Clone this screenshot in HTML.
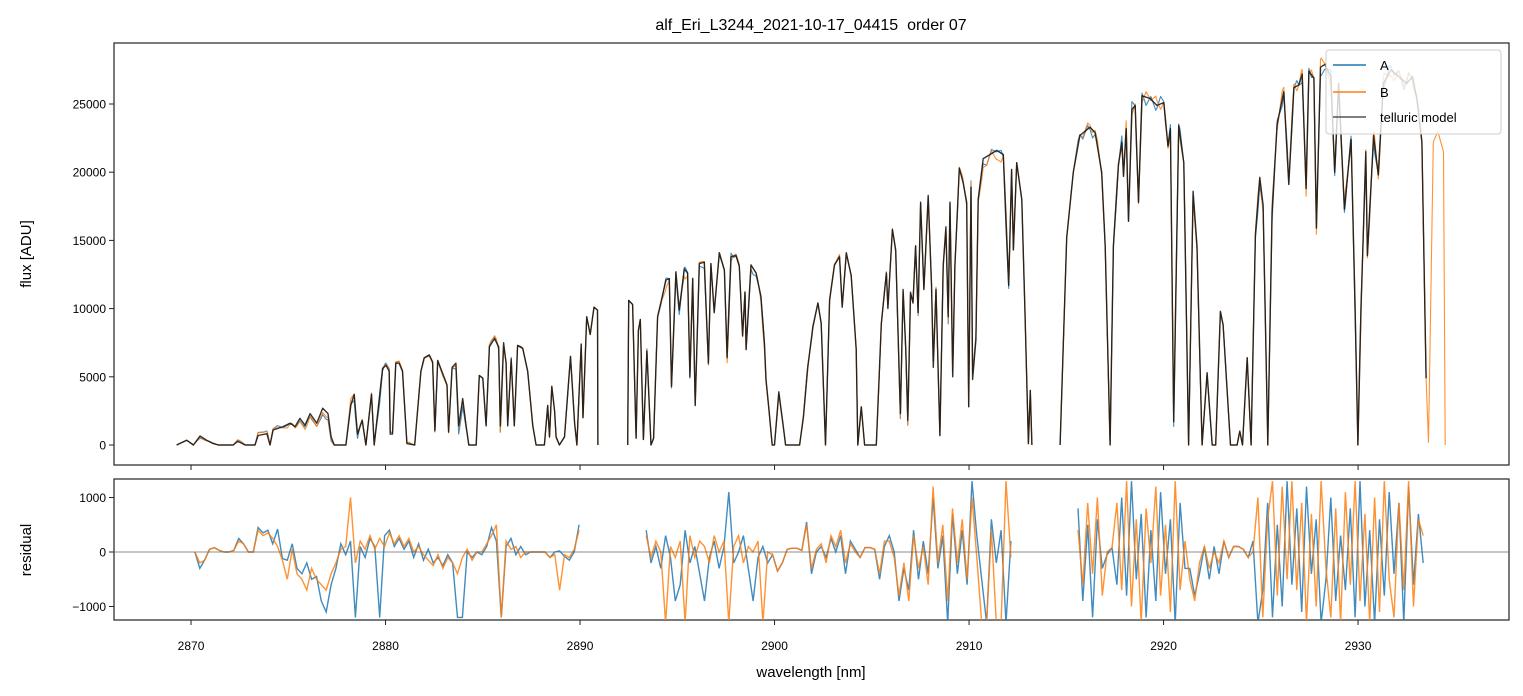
<!DOCTYPE html>
<html><head><meta charset="utf-8">
<style>
html,body{margin:0;padding:0;background:#fff;}
svg{display:block;font-family:"Liberation Sans","DejaVu Sans",sans-serif;}
</style></head>
<body>
<svg id="chart" width="1523" height="696" viewBox="0 0 1523 696" xmlns="http://www.w3.org/2000/svg">
<defs>
<clipPath id="clipTop"><rect x="114" y="43" width="1395" height="422"/></clipPath>
<clipPath id="clipBot"><rect x="114" y="479" width="1395" height="141"/></clipPath>
</defs>
<rect width="1523" height="696" fill="#fff"/>
<text x="811" y="30" text-anchor="middle" font-size="16" fill="#000" style="white-space:pre">alf_Eri_L3244_2021-10-17_04415  order 07</text>
<g id="topPlot"></g>
<g id="botPlot"></g>
<text transform="translate(31,254) rotate(-90)" text-anchor="middle" font-size="15">flux [ADU]</text>
<text transform="translate(31,550) rotate(-90)" text-anchor="middle" font-size="15">residual</text>
<text x="811" y="677" text-anchor="middle" font-size="15">wavelength [nm]</text>
<g>
<rect x="1326" y="50" width="175" height="84" rx="3" fill="#fff" fill-opacity="0.8" stroke="#ccc"/>
<line x1="1333" y1="65" x2="1366" y2="65" stroke="#1f77b4" stroke-width="1.5"/>
<text x="1380" y="70" font-size="13">A</text>
<line x1="1333" y1="92" x2="1366" y2="92" stroke="#ff7f0e" stroke-width="1.5"/>
<text x="1380" y="97" font-size="13">B</text>
<line x1="1333" y1="117" x2="1366" y2="117" stroke="#555" stroke-width="1.5"/>
<text x="1380" y="122" font-size="13">telluric model</text>
</g>
</svg>
<script>
const xTicks = [2870, 2880, 2890, 2900, 2910, 2920, 2930];
const yTicksTop = [0, 5000, 10000, 15000, 20000, 25000];
const yTicksBot = [-1000, 0, 1000];
const modelWl = [
[2869.26,2869.78,2870.12,2870.46,2870.8,2871.14,2871.4,2872.17,2872.4,2872.78,2873.29,2873.45,2873.9,2874.06,2874.22,2874.73,2875.09,2875.35,2875.6,2875.86,2876.12,2876.46,2876.77,2877.04,2877.2,2877.36,2877.96,2878.22,2878.39,2878.56,2878.8,2878.99,2879.28,2879.42,2879.85,2880.02,2880.19,2880.24,2880.36,2880.53,2880.7,2880.87,2881.1,2881.5,2881.82,2881.99,2882.25,2882.42,2882.54,2882.68,2883.03,2883.16,2883.24,2883.42,2883.62,2883.76,2883.97,2884.14,2884.28,2884.66,2884.82,2885.0,2885.17,2885.34,2885.6,2885.82,2885.9,2886.07,2886.2,2886.28,2886.46,2886.62,2886.79,2887.05,2887.31,2887.57,2887.74,2888.17,2888.34,2888.43,2888.55,2888.69,2888.77,2888.94,2889.2,2889.51,2889.72,2889.84,2890.06,2890.15,2890.34,2890.52,2890.72,2890.9,2890.92],
[2892.45,2892.5,2892.7,2892.88,2893.0,2893.1,2893.26,2893.44,2893.65,2893.78,2893.99,2894.42,2894.59,2894.7,2894.93,2895.1,2895.36,2895.53,2895.65,2895.79,2895.92,2896.13,2896.39,2896.6,2896.73,2896.9,2897.16,2897.42,2897.56,2897.76,2898.02,2898.19,2898.36,2898.48,2898.54,2898.79,2899.05,2899.3,2899.48,2899.56,2899.7,2899.88,2900.0,2900.22,2900.43,2900.57,2901.29,2901.49,2901.71,2901.97,2902.23,2902.4,2902.62,2902.83,2903.08,2903.34,2903.48,2903.69,2903.94,2904.2,2904.28,2904.46,2904.63,2905.23,2905.49,2905.75,2905.83,2906.06,2906.23,2906.47,2906.61,2906.75,2906.85,2906.99,2907.12,2907.25,2907.38,2907.51,2907.68,2907.9,2908.07,2908.16,2908.3,2908.5,2908.67,2908.81,2908.93,2909.02,2909.16,2909.27,2909.5,2909.7,2909.88,2909.98,2910.1,2910.18,2910.35,2910.47,2910.73,2911.08,2911.42,2911.76,2912.04,2912.19,2912.28,2912.45,2912.71,2912.88,2913.05,2913.15,2913.23],
[2914.68,2915.02,2915.36,2915.7,2916.22,2916.48,2916.82,2917.0,2917.25,2917.42,2917.68,2917.86,2917.94,2918.08,2918.2,2918.37,2918.54,2918.71,2918.89,2919.31,2919.66,2920.01,2920.23,2920.35,2920.52,2920.78,2921.04,2921.29,2921.52,2921.72,2921.98,2922.24,2922.5,2922.68,2922.92,2923.06,2923.44,2923.78,2923.92,2924.06,2924.3,2924.5,2924.72,2924.95,2925.12,2925.36,2925.58,2925.84,2926.18,2926.44,2926.7,2926.96,2927.13,2927.33,2927.47,2927.73,2927.86,2928.07,2928.3,2928.6,2928.8,2929.0,2929.3,2929.64,2929.85,2929.99,2930.15,2930.4,2930.48,2930.8,2931.04,2931.3,2931.7,2932.1,2932.5,2932.8,2933.02,2933.28,2933.5]
];
const modelFluxK = [
[0,0.35,0,0.66,0.35,0.1,0,0,0.27,0,0,0.7,0.83,0,1.1,1.35,1.6,1.35,1.95,1.45,2.3,1.6,2.7,2.3,0.6,0,0,2.95,3.7,0.8,1.8,0,3.7,0,5.6,5.85,5.4,0.8,0.8,6.0,6.0,5.4,0.1,0,5.4,6.4,6.6,6.1,1.05,6.2,4.9,4.4,0.95,5.7,6.0,1.4,3.4,1.4,0,0,5.1,4.9,1.4,7.2,7.8,7.2,1.4,7.5,6.0,1.4,6.3,1.4,7.3,7.1,5.4,1.4,0,0,2.9,0.6,4.3,2.5,0.6,0,0.6,6.5,1.6,0,7.4,2.0,9.4,8.1,10.1,9.9,0],
[0,10.6,10.3,0.5,8.4,9.2,0.4,6.9,0,0.5,9.4,12.1,12.2,4.3,12.7,9.9,12.9,12.6,5.0,12.2,2.9,13.3,13.4,6.0,13.3,9.7,14.1,12.8,6.4,13.8,13.9,13.1,8.0,11.2,7.0,13.2,12.6,10.9,7.5,4.8,2.8,0,0,3.9,1.6,0,0,2.1,5.7,8.7,10.4,8.9,0,10.6,13.2,13.8,10.1,14.1,12.4,7.0,0,2.8,0,0,8.9,12.6,10,15.8,14.3,2.3,11.4,7.0,1.8,11.2,10.4,14.6,9.7,17.8,11.4,18.3,11.7,5.7,11.4,0.7,13.1,16.0,9.4,17.8,5.0,13.1,20.3,19.2,17.8,2.8,18.9,4.8,7.7,18.0,21.0,21.3,21.6,21.3,11.7,20.2,14.3,20.7,18.0,9.4,0.1,4,0],
[0,15.2,20.0,22.7,23.3,22.9,20.0,14.6,0,14.6,20.5,22.2,19.7,23.2,16.4,24.6,24.9,17.8,25.6,25.4,24.9,25.1,21.9,23.2,1.7,23.4,20.7,0,18.6,14.6,0,5.3,0,0,9.8,8.8,0,0,1.0,0,6.4,0,15.4,19.6,17.6,0,17.1,23.5,25.9,19.1,26.2,26.4,27.2,18.8,27.4,26.9,15.9,27.7,27.9,27,20,26.5,17.3,22.4,10,0,10,21.5,13.9,22.7,19.8,26.5,27.5,27,26.5,27,25.4,22.2,4.9]
];
const bTailWl = [2933.5, 2933.62, 2933.87, 2934.1, 2934.39, 2934.48];
const bTailFluxK = [4.9, 0.2, 22.2, 23, 21.5, 0];
const resStart = [2870.2, 2893.4, 2915.6];
const resStep = 0.25;
const resA = [
[0,-3,-1.5,0.5,0.8,0.3,0,0,0.3,2.5,1.5,0,0,4.5,3.5,4,1.5,4.2,-1.2,-1.5,1.5,-3,-4,-2,-5,-4.5,-9,-11,-6,-3,1.5,-0.5,2,-12,1,-1,2.5,1,-12,3,4,1,2.5,0.5,2,-1,1.5,-1.5,0.5,-2,-1,-2.5,-0.5,-2,-12,-12,0,-1,0,-0.5,1,4.5,2,-12,1,2.5,-0.5,1,-0.5,0,0,0,0,-1,0,0.2,-0.8,-1.5,0,5],
[4,-2,1,-3,3,-1,-9,-6,4,-2,1,-4,-9,-1,2,-3,1,11,-2,0,3,-3,-9,-1,1,-2,-0.5,-3.5,-2,0.5,0.7,0.7,0.3,5.5,-4,0,1,-1,2.5,0,3,-4,2,0.5,-1,0.8,0.8,0.5,-5,1,3,0,-9,-3,-7,4,-5,2,-4,10,-3,3,-13,7,-4,4,-6,13,3,-5,-13,6,-2,4,-13,2],
[8,-9,5,-12,6,-3,-0.5,0.8,-6,10,-8,13,-5,7,-12,4,-9,11,-4,6,-13,9,-3,-3,-8,-4,1,-5,1,-4,2,-1,1,1,0.5,-1,2,-13,-7,9,-12,5,-10,13,-6,8,-11,12,-4,6,-13,-5,10,-9,3,-7,8,-12,13,-10,4,-13,6,-8,11,-4,9,-13,12,-6,7,-2]
];
const resB = [
[0,-2,-1.5,0.5,0.8,0.3,0,0,0.3,2,1.5,0,0,4,3,3.5,2.5,1,-1.5,-5,0.5,-4,-5,-7,-3,-5,-6,-7,-4,-2,0.5,1,10,-2,2,0.5,3,0.5,2.5,1,3.5,1.5,3,1,2.5,0,1,-0.5,-1.5,-2.5,-0.5,-3,-1,-2,-4,-1,0.5,-1.5,0,0,1.5,3,5,-12,2,0.5,1,-1,0,0,0,0,0,-1,-0.5,-7,-0.5,-1,0.5,4],
[3,-1,2,0,-13,1,-1,2,-13,3,-1,2,1,-2,3,0,2,-13,1,3,-2,1,0,2,-13,0,-0.5,-3.5,-2,0.5,0.7,0.7,0.3,5,-3,0.5,1.5,-2,3,1,4,-2,1.5,0,-1,0.8,0.8,0.5,-4,2,2,-1,-8,-2,-9,3,-3,1,-6,12,-2,5,-9,8,-2,6,-5,10,-1,-13,-13,4,-13,-13,13,-1],
[4,-6,9,-4,10,-8,0,0.8,9,-7,13,-10,6,-13,8,-2,12,-8,5,-11,13,-7,2,-5,-9,-2,1,-3,0,-2,2,-1,1,1,0.5,-1,0,10,-12,6,13,-8,12,-5,13,-7,9,-13,7,-10,13,-3,-12,8,-13,11,-6,13,-9,7,-13,10,-11,13,-5,-12,9,-7,13,-10,6,3]
];

const NS = "http://www.w3.org/2000/svg";
const X0 = 114, X1 = 1509, WL0 = 2866.04, WL1 = 2937.76;
const xs = w => X0 + (w - WL0) / (WL1 - WL0) * (X1 - X0);
const yTop = f => 445 - f * 0.013640;
const yBot = r => 552 - r * 0.0545;
const topG = document.getElementById('topPlot');
const botG = document.getElementById('botPlot');
function mk(tag, attrs, parent) {
  const el = document.createElementNS(NS, tag);
  for (const k in attrs) el.setAttribute(k, attrs[k]);
  parent.appendChild(el);
  return el;
}
function resAt(series, w) {
  for (let s = 0; s < resStart.length; s++) {
    const arr = series[s];
    const t = (w - resStart[s]) / resStep;
    if (t >= 0 && t <= arr.length - 1) {
      const i = Math.floor(t), fr = t - i;
      const v1 = arr[i], v2 = arr[Math.min(i + 1, arr.length - 1)];
      return (v1 + (v2 - v1) * fr) * 100;
    }
  }
  return 0;
}
function modelAt(s, w) {
  const W = modelWl[s], F = modelFluxK[s];
  for (let i = 0; i < W.length - 1; i++) {
    if (w >= W[i] && w <= W[i + 1]) {
      return (F[i] + (F[i + 1] - F[i]) * (w - W[i]) / (W[i + 1] - W[i])) * 1000;
    }
  }
  return 0;
}
function spectrumPath(series) {
  let d = '';
  for (let s = 0; s < modelWl.length; s++) {
    const W = modelWl[s];
    const pts = W.slice();
    for (let r = 0; r < resStart.length; r++) {
      for (let i = 0; i < series[r].length; i++) {
        const w = resStart[r] + i * resStep;
        if (w > W[0] && w < W[W.length - 1]) pts.push(w);
      }
    }
    pts.sort((a, b) => a - b);
    pts.forEach((w, i) => {
      const m = modelAt(s, w);
      const v = m > 0 ? Math.max(0, m + resAt(series, w) * 0.5) : 0;
      d += (i === 0 ? 'M' : 'L') + xs(w).toFixed(1) + ',' + yTop(v).toFixed(1);
    });
  }
  return d;
}

mk('rect', {x: X0, y: 43, width: X1 - X0, height: 422, fill: 'none', stroke: '#222', 'stroke-width': 1.2,  }, topG);
mk('rect', {x: X0, y: 479, width: X1 - X0, height: 141, fill: 'none', stroke: '#222', 'stroke-width': 1.2,  }, botG);
xTicks.forEach(t => {
  const x = xs(t);
  const a = mk('line', {x1: x, y1: 465, x2: x, y2: 470, stroke: '#222'}, topG);
  
  
  const b = mk('line', {x1: x, y1: 620, x2: x, y2: 625, stroke: '#222'}, botG);
  
  
  const tl = mk('text', {x: x, y: 650, 'text-anchor': 'middle', 'font-size': 12}, botG);
  tl.textContent = t;
  
  
});
yTicksTop.forEach(t => {
  const y = yTop(t);
  const a = mk('line', {x1: X0 - 5, y1: y, x2: X0, y2: y, stroke: '#222'}, topG);
  
  
  const tl = mk('text', {x: X0 - 8, y: y + 4.5, 'text-anchor': 'end', 'font-size': 12}, topG);
  tl.textContent = t;
  
  
});
yTicksBot.forEach(t => {
  const y = yBot(t);
  const a = mk('line', {x1: X0 - 5, y1: y, x2: X0, y2: y, stroke: '#222'}, botG);
  
  
  const tl = mk('text', {x: X0 - 8, y: y + 4.5, 'text-anchor': 'end', 'font-size': 12}, botG);
  tl.textContent = t < 0 ? '\u2212' + Math.abs(t) : t;
  
  
});

const gTop = mk('g', {'clip-path': 'url(#clipTop)'}, topG);
const pA = mk('path', {d: spectrumPath(resA), fill: 'none', stroke: '#1f77b4', 'stroke-width': 1.1, 'stroke-opacity': 0.85, 'stroke-linejoin': 'round'}, gTop);


let dB = spectrumPath(resB);
bTailWl.forEach((w, i) => { dB += (i === 0 ? 'M' : 'L') + xs(w).toFixed(1) + ',' + yTop(bTailFluxK[i] * 1000).toFixed(1); });
const pB = mk('path', {d: dB, fill: 'none', stroke: '#ff7f0e', 'stroke-width': 1.1, 'stroke-opacity': 0.85, 'stroke-linejoin': 'round'}, gTop);


let dM = '';
modelWl.forEach((W, s) => W.forEach((w, i) => { dM += (i === 0 ? 'M' : 'L') + xs(w).toFixed(1) + ',' + yTop(modelFluxK[s][i] * 1000).toFixed(1); }));
const pM = mk('path', {d: dM, fill: 'none', stroke: '#111', 'stroke-width': 1.4, 'stroke-opacity': 0.85, 'stroke-linejoin': 'round'}, gTop);



const gBot = mk('g', {'clip-path': 'url(#clipBot)'}, botG);
function resPath(series) {
  let d = '';
  series.forEach((arr, s) => arr.forEach((v, i) => {
    d += (i === 0 ? 'M' : 'L') + xs(resStart[s] + i * resStep).toFixed(1) + ',' + yBot(v * 100).toFixed(1);
  }));
  return d;
}
const rA = mk('path', {d: resPath(resA), fill: 'none', stroke: '#1f77b4', 'stroke-width': 1.4, 'stroke-opacity': 0.85}, gBot);


const rB = mk('path', {d: resPath(resB), fill: 'none', stroke: '#ff7f0e', 'stroke-width': 1.4, 'stroke-opacity': 0.85}, gBot);


const zl = mk('line', {x1: X0, y1: yBot(0), x2: X1, y2: yBot(0), stroke: '#666', 'stroke-width': 0.8}, botG);


</script>
</body></html>
